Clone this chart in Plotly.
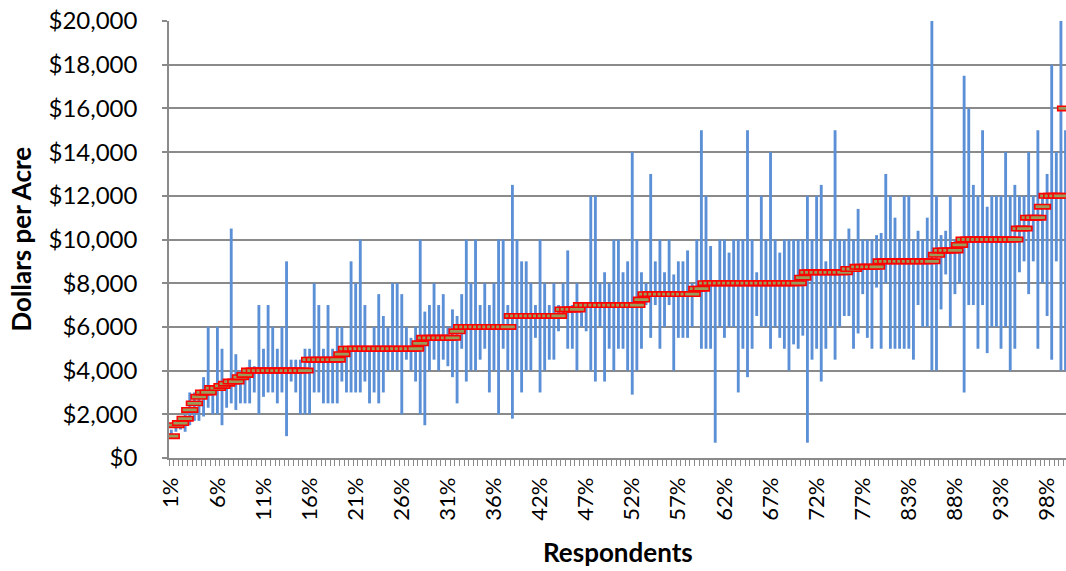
import plotly.graph_objects as go

# ---------------- data ----------------
respondent = list(range(1, 196))

median_value = (
    [1000, 1500, 1600, 1800, 2200, 2500, 2800, 3000, 3000, 3200,
     3200, 3300, 3400, 3500, 3500, 3700, 3800]
    + [4000] * 13 + [4500] * 7 + [4750] + [5000] * 16 + [5250]
    + [5500] * 7 + [5800] + [6000] * 11 + [6500] * 11 + [6800] * 4
    + [7000] * 13 + [7250] + [7500] * 11 + [7750] * 2 + [8000] * 21
    + [8250] + [8500] * 9 + [8650] * 2 + [8750] * 5 + [9000] * 12
    + [9300] + [9500] * 4 + [9750] + [10000] * 12 + [10500] * 2
    + [11000] * 3 + [11500] + [12000] * 4 + [16000]
)

low_value = [
    1000, 1200, 1300, 1200, 1500, 1700, 1700, 1900, 2300, 2000,
    2000, 1500, 2300, 2500, 2200, 2500, 2500, 2500, 3000, 2000,
    2800, 3000, 3000, 2500, 3000, 1000, 3500, 3000, 2000, 2000,
    2000, 3000, 3000, 2500, 2500, 2500, 2500, 3500, 3000, 3000,
    3000, 3000, 3500, 2500, 3000, 2500, 3000, 4000, 4000, 4000,
    2000, 4500, 4000, 3500, 2000, 1500, 4000, 4500, 4000, 4500,
    4200, 3700, 2500, 5000, 3500, 4000, 4000, 4500, 5000, 3000,
    4000, 2000, 5000, 4000, 1800, 4000, 3000, 4000, 4000, 5500,
    3000, 4000, 4500, 4500, 5800, 6500, 5000, 5000, 4000, 6000,
    5800, 4000, 3500, 6000, 3500, 5000, 4000, 5000, 5000, 4000,
    2900, 4000, 5000, 7000, 5500, 7000, 5000, 6000, 7000, 4000,
    5500, 5500, 5500, 6000, 7500, 5000, 5000, 5000, 700, 6000,
    5500, 6000, 6000, 3000, 5000, 3700, 5000, 6500, 6000, 6000,
    5000, 6000, 5500, 5000, 4000, 5200, 5000, 5600, 700, 4500,
    5000, 3500, 5000, 6000, 4500, 6000, 6500, 6500, 5000, 5700,
    7500, 5500, 5000, 7800, 5000, 8000, 5000, 5000, 5000, 5000,
    5000, 4500, 7000, 6000, 6000, 4000, 4000, 6800, 8400, 6000,
    7500, 8000, 3000, 7000, 7000, 5000, 7000, 4800, 6000, 6000,
    5000, 6000, 4000, 5000, 8500, 9000, 7500, 9000, 5000, 8000,
    6500, 4500, 9000, 4000, 4000,
]

high_value = [
    1300, 1600, 1800, 2000, 3000, 3000, 3000, 3700, 6000, 3300,
    6000, 5000, 3600, 10500, 4750, 4000, 4000, 4500, 4200, 7000,
    5000, 7000, 6000, 5000, 6000, 9000, 4500, 4500, 4500, 5000,
    5000, 8000, 7000, 5000, 7000, 5000, 6000, 6000, 5000, 9000,
    8000, 10000, 7000, 5000, 6000, 7500, 6500, 6000, 8000, 8000,
    7500, 6000, 5500, 6000, 10000, 6700, 7000, 8000, 7000, 7500,
    6000, 6800, 6500, 7500, 10000, 8000, 10000, 7000, 8000, 7000,
    8000, 10000, 10000, 7000, 12500, 10000, 9000, 9000, 8000, 7000,
    10000, 8000, 7000, 8000, 7000, 8000, 9500, 7000, 8000, 7000,
    7000, 12000, 12000, 8000, 8500, 8000, 10000, 10000, 8500, 9000,
    14000, 10000, 8500, 8000, 13000, 9000, 10000, 8500, 10000, 8400,
    9000, 9000, 9500, 8000, 10000, 15000, 12000, 9700, 8000, 10000,
    10000, 9400, 10000, 10000, 10000, 15000, 10000, 8500, 12000, 10000,
    14000, 10000, 9400, 10000, 10000, 10000, 10000, 10000, 12000, 10000,
    12000, 12500, 9000, 10000, 15000, 10000, 10000, 10500, 10000, 11400,
    10000, 10000, 10000, 10200, 10300, 13000, 12000, 11000, 10000, 12000,
    12000, 10000, 10400, 10000, 11000, 20000, 12000, 10200, 10400, 12000,
    10000, 10000, 17500, 16000, 12500, 12000, 15000, 11500, 12000, 12000,
    12000, 14000, 12000, 12500, 12000, 12000, 14000, 12000, 15000, 12000,
    13000, 18000, 14000, 20000, 15000,
]

tick_respondent = [1, 11, 21, 31, 41, 51, 61, 71, 81, 91,
                   101, 111, 121, 131, 141, 151, 161, 171, 181, 191]
tick_label = ["1%", "6%", "11%", "16%", "21%", "26%", "31%", "36%", "42%", "47%",
              "52%", "57%", "62%", "67%", "72%", "77%", "83%", "88%", "93%", "98%"]

# ---------------- styling ----------------
BLUE = "#5B8FD6"
GRID = "#8A8A8A"
FONT = "Lato, sans-serif"
MARK_H = 200  # marker height in dollars (~4.4 px)

fig = go.Figure()

fig.add_trace(go.Bar(
    x=respondent,
    y=[h - l for h, l in zip(high_value, low_value)],
    base=low_value,
    width=0.62,
    marker=dict(color=BLUE, line=dict(width=0)),
    hoverinfo="skip",
))

fig.add_trace(go.Bar(
    x=respondent,
    y=[MARK_H] * len(median_value),
    base=[m - MARK_H / 2 for m in median_value],
    width=3.4,
    marker=dict(color="#9A9A5A", line=dict(color="#FF0000", width=1.6)),
    hoverinfo="skip",
))

fig.update_layout(
    width=1066, height=571,
    barmode="overlay",
    showlegend=False,
    plot_bgcolor="white", paper_bgcolor="white",
    margin=dict(l=169, r=0, t=21, b=113),
    font=dict(family=FONT, color="black"),
    xaxis=dict(
        range=[0.5, 195.1],
        tickmode="array", tickvals=tick_respondent, ticktext=tick_label,
        tickangle=-90, ticks="", tickfont=dict(size=22),
        ticklabelstandoff=9,
        showgrid=False, zeroline=False,
        showline=True, linecolor=GRID, linewidth=1.5,
        minor=dict(ticks="outside", tickmode="linear", tick0=0.5, dtick=1,
                   ticklen=6, tickcolor=GRID, tickwidth=1, showgrid=False),
    ),
    yaxis=dict(
        range=[0, 20000], dtick=2000, tickformat="$,.0f",
        tickfont=dict(size=24),
        ticks="outside", ticklen=5, tickcolor=GRID, tickwidth=1.5,
        ticklabelstandoff=20,
        showgrid=True, gridcolor=GRID, gridwidth=1.5,
        zeroline=False,
        showline=True, linecolor=GRID, linewidth=1.5,
    ),
    annotations=[
        dict(text="<b>Dollars per Acre</b>", textangle=-90,
             xref="paper", yref="paper", x=-(169 - 20) / 897, y=0.5,
             xanchor="center", yanchor="middle", showarrow=False,
             font=dict(size=26, family=FONT, color="black")),
        dict(text="<b>Respondents</b>",
             xref="paper", yref="paper", x=0.5, y=-(552 - 458) / 437,
             xanchor="center", yanchor="middle", showarrow=False,
             font=dict(size=26, family=FONT, color="black")),
    ],
)

fig.write_html("out.html", include_plotlyjs=True,
               config={"displayModeBar": False},
               post_script="document.body.style.margin='0';document.body.style.overflow='hidden';")
